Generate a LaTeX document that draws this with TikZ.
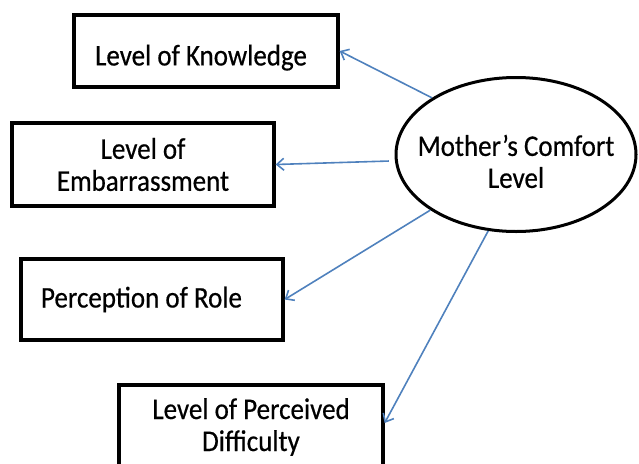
\documentclass[tikz,border=0pt]{standalone}
\usepackage{fontspec}
\setmainfont{Carlito}[FakeStretch=0.9,FakeBold=0.5]
\usetikzlibrary{arrows.meta,shapes.geometric}
\definecolor{linkblue}{RGB}{79,129,189}
\begin{document}
\begin{tikzpicture}[x=1pt,y=-1pt,
  label font/.style={font=\fontsize{30}{32}\selectfont},
  box/.style={draw=black,line width=3.3pt,rectangle,inner sep=0pt,align=center,label font},
  hub/.style={draw=black,line width=3pt,ellipse,inner xsep=-20pt,inner ysep=0pt,align=center,label font},
  link/.style={draw=linkblue,line width=1.6pt,-{Straight Barb[length=7pt,width=12pt]}}]
\useasboundingbox (0,0) rectangle (639,463);
\clip (0,0) rectangle (639,463);

% outcome boxes
\node[box,minimum width=264pt,minimum height=72pt] (know) at (206,51)
  {\rule{0pt}{34pt}Level of Knowledge\hspace*{10pt}};
\node[box,minimum width=262pt,minimum height=83pt] (emb) at (143,164.5) {Level of\\Embarrassment};
\node[box,minimum width=262pt,minimum height=81pt] (role) at (152,299.5)
  {Perception of Role\hspace*{21pt}};
\node[box,minimum width=264pt,minimum height=84pt] (diff) at (251,427) {Level of Perceived\\Difficulty};

% central factor
\node[hub,minimum width=240pt,minimum height=154pt] (mom) at (516,154.5)
  {\rule{0pt}{35pt}Mother’s Comfort\\Level};

% influences
\draw[link] (mom.146.6) -- (know.east);
\draw[link,shorten <=6pt] (mom.183) -- (emb.east);
\draw[link] (mom.213.4) -- (role.east);
\draw[link] (mom.250.5) -- ([yshift=4pt]diff.east);
\end{tikzpicture}
\end{document}
